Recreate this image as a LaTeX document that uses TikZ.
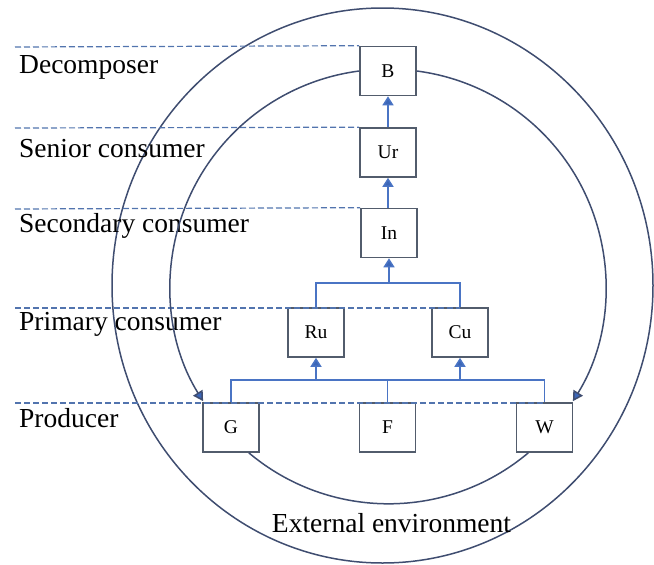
\documentclass[tikz,border=0pt]{standalone}
\usepackage{fontspec}
\setmainfont{Liberation Serif}
\usetikzlibrary{arrows.meta}
\definecolor{boxc}{HTML}{525C6C}
\definecolor{linec}{HTML}{4A74C4}
\definecolor{dashc}{HTML}{5274AE}
\definecolor{circc}{HTML}{3F4D70}
\definecolor{tipc}{HTML}{3B66B8}
\begin{document}
\begin{tikzpicture}[x=1pt,y=1pt,
  box/.style={draw=boxc, line width=1.6pt, fill=white, minimum width=56pt, minimum height=49pt, inner sep=0pt, font=\fontsize{19.5}{22}\selectfont},
  lbl/.style={anchor=base west, font=\fontsize{27.5}{31}\selectfont, inner sep=0pt},
  conn/.style={draw=linec, line width=1.5pt},
  arr/.style={conn, -{Triangle[width=11pt,length=9pt,fill=tipc]}},
  lvl/.style={draw=dashc, line width=1.2pt, dash pattern=on 6pt off 3pt},
  ring/.style={draw=circc, line width=1.5pt},
  carr/.style={ring, -{Triangle[width=11pt,length=10pt,fill=tipc]}}]
\useasboundingbox (0,0) rectangle (654,-565);

% outer environment ring
\draw[ring] (382.5,-285.5) ellipse[x radius=270.5, y radius=277.5];

% boxes
\node[box] (B)  at (388,-71)    {B};
\node[box] (Ur) at (388,-152.5) {Ur};
\node[box] (In) at (389,-233)   {In};
\node[box] (Ru) at (316,-332.5) {Ru};
\node[box] (Cu) at (460,-332.5) {Cu};
\node[box] (G)  at (231,-427.5) {G};
\node[box] (F)  at (387.5,-427.5) {F};
\node[box] (W)  at (544.5,-427.5) {W};

% level lines
\coordinate (l1) at (15,-47);
\coordinate (l2) at (15,-128);
\coordinate (l3) at (15,-209);
\coordinate (l4) at (15,-308);
\coordinate (l5) at (15,-403);
\draw[lvl] (l1) -- (B.north west);
\draw[lvl] (l2) -- (Ur.north west);
\draw[lvl] (l3) -- (In.north west);
\draw[lvl] (l4) -- (Cu.north |- l4);
\draw[lvl] (l5) -- (W.north |- l5);

% level labels
\node[lbl] (t1) at (19,-73)  {Decomposer};
\node[lbl] (t2) at (19,-157) {Senior consumer};
\node[lbl] (t3) at (19,-232) {Secondary consumer};
\node[lbl] (t4) at (19,-330) {Primary consumer};
\node[lbl] (t5) at (19,-427) {Producer};
\node[font=\fontsize{27.5}{31}\selectfont, anchor=base, inner sep=0pt] (ext) at (391.5,-532) {External environment};

% food chain connectors
\draw[arr] (Ur.north) -- (B.south);
\draw[arr] (In.north -| Ur.south) -- (Ur.south);
\coordinate (j1) at (389,-283);
\draw[conn] (Ru.north) |- (j1) -| (Cu.north);
\draw[arr] (j1) -- (In.south);
\coordinate (j2) at (387.5,-380);
\draw[conn] (G.north) |- (j2) -| (W.north);
\draw[conn] (F.north) -- (j2);
\draw[arr] (Ru.south |- j2) -- (Ru.south);
\draw[arr] (Cu.south |- j2) -- (Cu.south);

% inner material cycle
\draw[carr] (B.west) arc[start angle=97.4, end angle=212, radius=217];
\draw[carr] (B.east) arc[start angle=82.6, end angle=-32, radius=217];
\draw[ring] ([xshift=-11pt]G.south east) arc[start angle=229.9, end angle=310.1, radius=217];
\end{tikzpicture}
\end{document}
